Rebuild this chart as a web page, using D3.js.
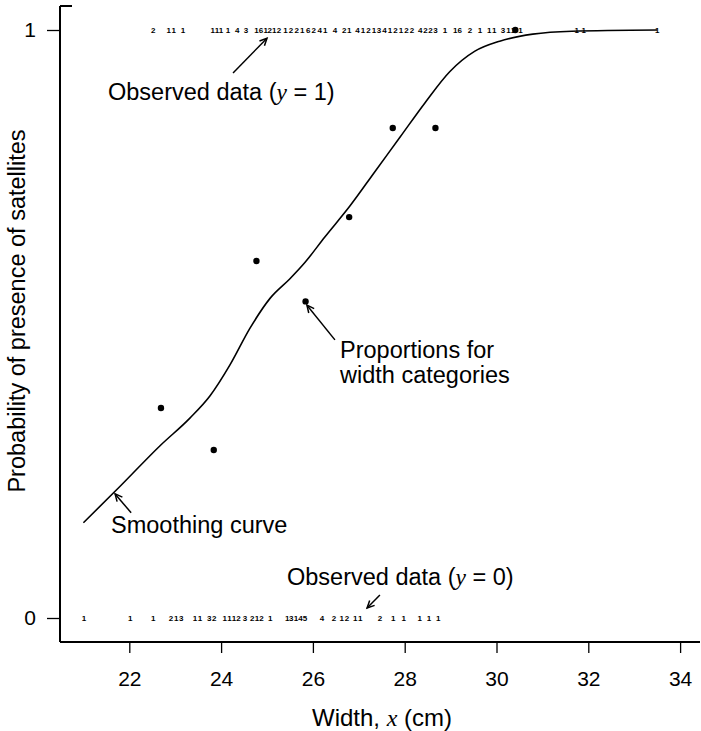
<!DOCTYPE html>
<html>
<head>
<meta charset="utf-8">
<script src="https://cdn.jsdelivr.net/npm/d3@7"></script>
<style>
  html, body { margin: 0; padding: 0; background: #fff; }
  svg { display: block; font-family: "Liberation Sans", Arial, sans-serif; }
</style>
</head>
<body>
<svg id="chart" width="701" height="731"></svg>
<script>
// ---------- data ----------
// Observed data y = 1 : width (cm) and count label
const topWidths = [22.52, 22.86, 22.97, 23.17, 23.82, 23.91, 24.00, 24.15, 24.35, 24.54,
  24.77, 24.87, 24.97, 25.06, 25.16, 25.26,
  25.40, 25.52, 25.65, 25.77, 25.90, 26.02, 26.15, 26.27,
  26.48, 26.68, 26.79,
  26.97, 27.09, 27.21, 27.33, 27.44, 27.56, 27.68, 27.80, 27.92, 28.04, 28.16,
  28.34, 28.45, 28.56, 28.67,
  28.88, 29.10, 29.20, 29.42, 29.64, 29.84, 29.95, 30.14,
  30.26, 30.36, 30.52, 31.75, 31.90, 33.50];
const topCounts = ["2","1","1","1","1","1","1","1","4","3",
  "1","6","1","2","1","2",
  "1","2","2","1","6","2","4","1",
  "4","2","1",
  "4","1","2","1","3","4","1","2","1","2","2",
  "4","2","2","3",
  "1","1","6","2","1","1","1","3",
  "1","1","1","1","1","1"];
// Observed data y = 0
const botWidths = [21.01, 22.02, 22.52, 22.91, 23.02, 23.13, 23.43, 23.54, 23.74, 23.85,
  24.08, 24.18, 24.28, 24.38, 24.52, 24.68, 24.78, 24.88, 25.07,
  25.44, 25.53, 25.63, 25.73, 25.83, 26.20, 26.46, 26.63, 26.74, 26.92, 27.03,
  27.46, 27.75, 27.98, 28.33, 28.53, 28.73];
const botCounts = ["1","1","1","2","1","3","1","1","3","2",
  "1","1","1","2","3","2","1","2","1",
  "1","3","1","4","5","4","2","1","2","1","1",
  "2","1","1","1","1","1"];
// Proportions for width categories
const catWidths = [22.69, 23.84, 24.77, 25.84, 26.79, 27.74, 28.67, 30.41];
const catProps  = [5/14, 4/14, 17/28, 21/39, 15/22, 20/24, 15/18, 14/14];
// Smoothing curve
const smoothX = [21.0, 21.80, 22.67, 23.32, 23.76, 24.19, 24.63, 25.07, 25.50, 25.83,
  26.26, 26.81, 27.35, 27.90, 28.44, 28.98, 29.53, 30.07, 30.79, 31.64, 33.5];
const smoothY = [0.162, 0.224, 0.293, 0.340, 0.378, 0.430, 0.493, 0.544, 0.577, 0.605,
  0.648, 0.701, 0.759, 0.818, 0.876, 0.929, 0.964, 0.981, 0.993, 0.998, 1.0];
// Axis ticks
const xTicks = [22, 24, 26, 28, 30, 32, 34];
const yTicks = [0, 1];

// ---------- scales ----------
const svg = d3.select("#chart");
const x = d3.scaleLinear().domain([22, 34]).range([129.3, 680.1]);
const y = d3.scaleLinear().domain([0, 1]).range([618, 30]);
const axisX = 60, axisY = 642;

// axes lines
svg.append("line").attr("x1", axisX).attr("x2", axisX).attr("y1", 6).attr("y2", axisY)
  .attr("stroke", "#000").attr("stroke-width", 2);
svg.append("line").attr("x1", axisX).attr("x2", 700).attr("y1", axisY).attr("y2", axisY)
  .attr("stroke", "#000").attr("stroke-width", 2);
svg.append("line").attr("x1", axisX).attr("x2", 72).attr("y1", 6).attr("y2", 6)
  .attr("stroke", "#000").attr("stroke-width", 2);

// x axis
const gx = svg.append("g").attr("transform", `translate(0,${axisY})`)
  .call(d3.axisBottom(x).tickValues(xTicks).tickSize(11).tickPadding(18).tickFormat(d3.format("d")));
gx.select(".domain").remove();
gx.selectAll(".tick line").attr("stroke", "#000").attr("stroke-width", 1.3);
gx.selectAll(".tick text").attr("font-size", 21).attr("fill", "#000")
  .attr("font-family", "Liberation Sans, Arial, sans-serif");

// y axis
const gy = svg.append("g").attr("transform", `translate(${axisX},0)`)
  .call(d3.axisLeft(y).tickValues(yTicks).tickSize(13).tickPadding(11).tickFormat(d3.format("d")));
gy.select(".domain").remove();
gy.selectAll(".tick line").attr("stroke", "#000").attr("stroke-width", 1.3);
gy.selectAll(".tick text").attr("font-size", 21).attr("fill", "#000")
  .attr("font-family", "Liberation Sans, Arial, sans-serif");

// axis titles
const xt = svg.append("text").attr("x", 382).attr("y", 726).attr("text-anchor", "middle")
  .attr("font-size", 24).attr("fill", "#000");
xt.append("tspan").text("Width, ");
xt.append("tspan").text("x").attr("font-family", "Liberation Serif, Times New Roman, serif").attr("font-style", "italic");
xt.append("tspan").text(" (cm)");

svg.append("text").attr("transform", "translate(25,311) rotate(-90)").attr("text-anchor", "middle")
  .attr("font-size", 23.5).attr("fill", "#000").text("Probability of presence of satellites");

// count labels
svg.append("g").selectAll("text").data(topWidths).join("text")
  .attr("x", d => x(d)).attr("y", y(1)).attr("dy", "0.35em")
  .attr("text-anchor", "middle").attr("font-size", 8).attr("font-weight", "bold")
  .text((d, i) => topCounts[i]);
svg.append("g").selectAll("text").data(botWidths).join("text")
  .attr("x", d => x(d)).attr("y", y(0)).attr("dy", "0.35em")
  .attr("text-anchor", "middle").attr("font-size", 8).attr("font-weight", "bold")
  .text((d, i) => botCounts[i]);

// smoothing curve
const curveData = smoothX.map((v, i) => [v, smoothY[i]]);
svg.append("path").datum(curveData)
  .attr("d", d3.line().x(d => x(d[0])).y(d => y(d[1])).curve(d3.curveMonotoneX))
  .attr("fill", "none").attr("stroke", "#000").attr("stroke-width", 1.6);

// proportions
svg.append("g").selectAll("circle").data(catWidths).join("circle")
  .attr("cx", d => x(d)).attr("cy", (d, i) => y(catProps[i])).attr("r", 3.2).attr("fill", "#000");

// annotations
const arrows = [
  {tail: [24.26, 0.927], head: [25.00, 0.986]},
  {tail: [26.48, 0.473], head: [25.87, 0.532]},
  {tail: [22.04, 0.179], head: [21.69, 0.211]},
  {tail: [27.46, 0.039], head: [27.18, 0.017]}
];
arrows.forEach(a => {
  const x1 = x(a.tail[0]), y1 = y(a.tail[1]), x2 = x(a.head[0]), y2 = y(a.head[1]);
  svg.append("line").attr("x1", x1).attr("y1", y1).attr("x2", x2).attr("y2", y2)
    .attr("stroke", "#000").attr("stroke-width", 1.5);
  const ang = Math.atan2(y2 - y1, x2 - x1), L = 8, w = 0.45;
  const p1 = [x2 - L * Math.cos(ang - w), y2 - L * Math.sin(ang - w)];
  const p2 = [x2 - L * Math.cos(ang + w), y2 - L * Math.sin(ang + w)];
  svg.append("path").attr("d", `M${p1[0]},${p1[1]}L${x2},${y2}L${p2[0]},${p2[1]}`)
    .attr("fill", "none").attr("stroke", "#000").attr("stroke-width", 1.5);
});

function obsLabel(xx, yy, val) {
  const t = svg.append("text").attr("x", xx).attr("y", yy).attr("font-size", 23.5).attr("fill", "#000");
  t.append("tspan").text("Observed data (");
  t.append("tspan").text("y").attr("font-family", "Liberation Serif, Times New Roman, serif").attr("font-style", "italic");
  t.append("tspan").text(" = " + val + ")");
}
obsLabel(108, 100, 1);
obsLabel(287, 585, 0);

svg.append("text").attr("x", 111).attr("y", 533).attr("font-size", 23.5).attr("fill", "#000").text("Smoothing curve");
svg.append("text").attr("x", 340).attr("y", 358).attr("font-size", 23.5).attr("fill", "#000").text("Proportions for");
svg.append("text").attr("x", 340).attr("y", 383).attr("font-size", 23.5).attr("fill", "#000").text("width categories");
</script>
</body>
</html>
